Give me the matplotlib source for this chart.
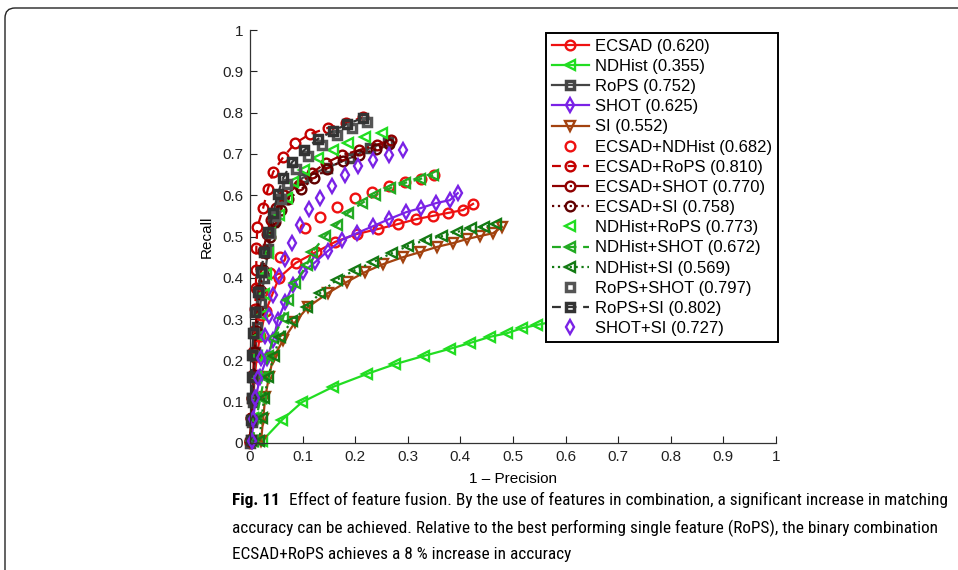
import matplotlib
matplotlib.use('Agg')
import matplotlib.pyplot as plt
from matplotlib import font_manager
from matplotlib.patches import FancyBboxPatch
from matplotlib.transforms import IdentityTransform

plt.rcParams['font.family'] = ['Liberation Sans', 'DejaVu Sans']

# ---- data (x = 1 - precision, y = recall) ----
ecsad_x = [0.0, 0.003, 0.006, 0.009, 0.013, 0.019, 0.030, 0.055, 0.087, 0.125, 0.162, 0.203, 0.243, 0.281, 0.316, 0.348, 0.376, 0.405, 0.424]
ecsad_y = [0.0, 0.05, 0.10, 0.16, 0.21, 0.26, 0.32, 0.40, 0.436, 0.462, 0.487, 0.506, 0.518, 0.530, 0.542, 0.550, 0.557, 0.564, 0.579]

ndhist_x = [0.023, 0.061, 0.099, 0.158, 0.222, 0.276, 0.331, 0.380, 0.418, 0.456, 0.489, 0.517, 0.546, 0.58, 0.62, 0.66]
ndhist_y = [0.005, 0.056, 0.099, 0.136, 0.167, 0.191, 0.211, 0.228, 0.242, 0.257, 0.266, 0.278, 0.286, 0.295, 0.303, 0.31]

rops_x = [0.0, 0.003, 0.006, 0.008, 0.010, 0.014, 0.020, 0.027, 0.035, 0.044, 0.063, 0.100, 0.146, 0.190, 0.228, 0.262]
rops_y = [0.0, 0.05, 0.10, 0.16, 0.22, 0.28, 0.34, 0.40, 0.47, 0.535, 0.59, 0.642, 0.666, 0.69, 0.714, 0.73]

shot_x = [0.004, 0.006, 0.011, 0.019, 0.032, 0.044, 0.053, 0.067, 0.082, 0.101, 0.124, 0.148, 0.175, 0.203, 0.234, 0.264, 0.297, 0.325, 0.354, 0.380, 0.395]
shot_y = [0.005, 0.056, 0.109, 0.16, 0.206, 0.249, 0.298, 0.341, 0.383, 0.414, 0.438, 0.465, 0.492, 0.508, 0.525, 0.542, 0.559, 0.569, 0.581, 0.588, 0.605]

si_x = [0.021, 0.025, 0.029, 0.036, 0.044, 0.063, 0.086, 0.110, 0.148, 0.184, 0.219, 0.253, 0.291, 0.323, 0.356, 0.386, 0.413, 0.437, 0.462, 0.479]
si_y = [0.005, 0.058, 0.111, 0.16, 0.206, 0.249, 0.293, 0.329, 0.363, 0.390, 0.414, 0.433, 0.450, 0.462, 0.475, 0.484, 0.494, 0.501, 0.508, 0.523]

ecsad_ndhist_x = [0.002, 0.004, 0.006, 0.009, 0.012, 0.016, 0.020, 0.023, 0.038, 0.057, 0.105, 0.133, 0.165, 0.200, 0.232, 0.264, 0.295, 0.325, 0.350]
ecsad_ndhist_y = [0.01, 0.06, 0.11, 0.16, 0.21, 0.26, 0.31, 0.366, 0.412, 0.450, 0.521, 0.547, 0.571, 0.593, 0.608, 0.622, 0.632, 0.639, 0.649]

ecsad_rops_x = [0.0, 0.002, 0.003, 0.005, 0.006, 0.008, 0.010, 0.011, 0.012, 0.012, 0.014, 0.025, 0.034, 0.044, 0.063, 0.086, 0.114, 0.148, 0.183, 0.215]
ecsad_rops_y = [0.005, 0.06, 0.11, 0.165, 0.22, 0.27, 0.325, 0.375, 0.42, 0.472, 0.523, 0.569, 0.615, 0.656, 0.692, 0.726, 0.748, 0.763, 0.775, 0.789]

ecsad_shot_x = [0.0, 0.002, 0.004, 0.006, 0.008, 0.010, 0.013, 0.016, 0.020, 0.025, 0.032, 0.040, 0.050, 0.065, 0.093, 0.118, 0.144, 0.175, 0.207, 0.241, 0.268]
ecsad_shot_y = [0.005, 0.06, 0.11, 0.165, 0.22, 0.27, 0.32, 0.37, 0.42, 0.465, 0.505, 0.54, 0.57, 0.60, 0.625, 0.654, 0.678, 0.697, 0.709, 0.722, 0.734]

ecsad_si_x = [0.001, 0.003, 0.005, 0.007, 0.009, 0.012, 0.015, 0.019, 0.024, 0.030, 0.038, 0.047, 0.058, 0.072, 0.097, 0.121, 0.147, 0.177, 0.208, 0.240, 0.265]
ecsad_si_y = [0.005, 0.06, 0.11, 0.165, 0.22, 0.27, 0.32, 0.37, 0.42, 0.46, 0.50, 0.535, 0.565, 0.59, 0.614, 0.641, 0.664, 0.684, 0.698, 0.711, 0.724]

ndhist_rops_x = [0.003, 0.005, 0.008, 0.011, 0.014, 0.018, 0.022, 0.026, 0.030, 0.034, 0.038, 0.055, 0.070, 0.082, 0.103, 0.129, 0.158, 0.186, 0.219, 0.251]
ndhist_rops_y = [0.005, 0.06, 0.11, 0.16, 0.21, 0.26, 0.31, 0.36, 0.41, 0.46, 0.508, 0.552, 0.593, 0.632, 0.661, 0.690, 0.709, 0.726, 0.741, 0.751]

ndhist_shot_x = [0.005, 0.012, 0.020, 0.027, 0.035, 0.044, 0.063, 0.072, 0.086, 0.108, 0.118, 0.143, 0.165, 0.186, 0.213, 0.238, 0.266, 0.295, 0.323, 0.348]
ndhist_shot_y = [0.005, 0.06, 0.11, 0.16, 0.21, 0.254, 0.303, 0.346, 0.387, 0.431, 0.462, 0.501, 0.528, 0.557, 0.581, 0.600, 0.617, 0.630, 0.639, 0.649]

ndhist_si_x = [0.018, 0.022, 0.027, 0.035, 0.045, 0.057, 0.080, 0.108, 0.133, 0.165, 0.200, 0.234, 0.270, 0.300, 0.335, 0.365, 0.394, 0.420, 0.445, 0.468]
ndhist_si_y = [0.005, 0.06, 0.11, 0.16, 0.21, 0.257, 0.295, 0.329, 0.363, 0.395, 0.419, 0.438, 0.460, 0.477, 0.492, 0.501, 0.511, 0.521, 0.523, 0.530]

rops_shot_x = [0.002, 0.003, 0.004, 0.005, 0.006, 0.008, 0.012, 0.017, 0.023, 0.030, 0.038, 0.048, 0.058, 0.070, 0.088, 0.110, 0.136, 0.165, 0.193, 0.222]
rops_shot_y = [0.007, 0.056, 0.109, 0.16, 0.213, 0.266, 0.317, 0.366, 0.414, 0.462, 0.508, 0.550, 0.592, 0.628, 0.664, 0.695, 0.722, 0.745, 0.763, 0.778]

rops_si_x = [0.002, 0.002, 0.004, 0.004, 0.004, 0.006, 0.010, 0.015, 0.021, 0.027, 0.034, 0.044, 0.053, 0.063, 0.080, 0.103, 0.129, 0.158, 0.184, 0.215]
rops_si_y = [0.007, 0.056, 0.109, 0.16, 0.213, 0.266, 0.317, 0.366, 0.414, 0.462, 0.511, 0.557, 0.603, 0.642, 0.680, 0.709, 0.736, 0.755, 0.772, 0.787]

shot_si_x = [0.004, 0.006, 0.010, 0.015, 0.021, 0.029, 0.036, 0.044, 0.055, 0.067, 0.080, 0.095, 0.112, 0.133, 0.156, 0.181, 0.205, 0.234, 0.264, 0.291]
shot_si_y = [0.005, 0.058, 0.109, 0.157, 0.206, 0.259, 0.307, 0.358, 0.404, 0.446, 0.484, 0.528, 0.567, 0.593, 0.622, 0.649, 0.671, 0.685, 0.697, 0.709]

labels = ['ECSAD (0.620)', 'NDHist (0.355)', 'RoPS (0.752)', 'SHOT (0.625)', 'SI (0.552)',
          'ECSAD+NDHist (0.682)', 'ECSAD+RoPS (0.810)', 'ECSAD+SHOT (0.770)', 'ECSAD+SI (0.758)',
          'NDHist+RoPS (0.773)', 'NDHist+SHOT (0.672)', 'NDHist+SI (0.569)',
          'RoPS+SHOT (0.797)', 'RoPS+SI (0.802)', 'SHOT+SI (0.727)']
ticks = [0, 0.1, 0.2, 0.3, 0.4, 0.5, 0.6, 0.7, 0.8, 0.9, 1]
tick_labels = ['0', '0.1', '0.2', '0.3', '0.4', '0.5', '0.6', '0.7', '0.8', '0.9', '1']

caption = ['Effect of feature fusion. By the use of features in combination, a significant increase in matching',
           'accuracy can be achieved. Relative to the best performing single feature (RoPS), the binary combination',
           'ECSAD+RoPS achieves a 8 % increase in accuracy']

series = [
    (ecsad_x, ecsad_y, '#ee1111', '-', 'o'),
    (ndhist_x, ndhist_y, '#22dd22', '-', '<'),
    (rops_x, rops_y, '#454545', '-', 's'),
    (shot_x, shot_y, '#7a22e6', '-', 'd'),
    (si_x, si_y, '#a3420f', '-', 'v'),
    (ecsad_ndhist_x, ecsad_ndhist_y, '#ee1111', 'none', 'o'),
    (ecsad_rops_x, ecsad_rops_y, '#c40000', (0, (4, 3)), 'o'),
    (ecsad_shot_x, ecsad_shot_y, '#8f0000', '-.', 'o'),
    (ecsad_si_x, ecsad_si_y, '#600000', ':', 'o'),
    (ndhist_rops_x, ndhist_rops_y, '#22dd22', 'none', '<'),
    (ndhist_shot_x, ndhist_shot_y, '#22aa22', (0, (4, 3)), '<'),
    (ndhist_si_x, ndhist_si_y, '#137a13', ':', '<'),
    (rops_shot_x, rops_shot_y, '#555555', 'none', 's'),
    (rops_si_x, rops_si_y, '#333333', (0, (4, 3)), 's'),
    (shot_si_x, shot_si_y, '#7a22e6', 'none', 'd'),
]

fig = plt.figure(figsize=(9.58, 5.70), dpi=100)

# page frame with rounded corner
frame = FancyBboxPatch((5, -60), 1100, 622, boxstyle='round,pad=0,rounding_size=10',
                       transform=IdentityTransform(), fill=False, edgecolor='#222222', lw=1.0)
fig.add_artist(frame)

ax = fig.add_axes([250 / 958, 1 - 443 / 570, 526 / 958, 413 / 570])

for (x, y, c, ls, m), lab in zip(series, labels):
    ms, mew = (5.5, 2.5) if m == 's' else (7.0, 1.7)
    ax.plot(x, y, color=c, linestyle=ls, lw=1.6, marker=m, markersize=ms,
            markerfacecolor='none', markeredgecolor=c, markeredgewidth=mew,
            label=lab, clip_on=False)

ax.set_xlim(0, 1)
ax.set_ylim(0, 1)
ax.set_xticks(ticks)
ax.set_xticklabels(tick_labels)
ax.set_yticks(ticks)
ax.set_yticklabels(tick_labels)
ax.tick_params(direction='in', length=5, width=0.8, labelsize=11, pad=5, colors='#222222')
ax.spines['top'].set_visible(False)
ax.spines['right'].set_visible(False)
for s in ('left', 'bottom'):
    ax.spines[s].set_color('#333333')
    ax.spines[s].set_linewidth(0.9)
ax.set_xlabel('1 \u2013 Precision', fontsize=11, labelpad=6)
ax.set_ylabel('Recall', fontsize=11, labelpad=6)

leg = ax.legend(loc='upper left', bbox_to_anchor=(546 / 958, 1 - 33 / 570),
                bbox_transform=fig.transFigure, borderaxespad=0, fontsize=12,
                handlelength=2.2, labelspacing=0.31, borderpad=0.35, handletextpad=0.4,
                frameon=True, fancybox=False, edgecolor='black', framealpha=1)
leg.get_frame().set_linewidth(1.4)
leg.set_zorder(10)

# caption: pick a narrow face if one exists, then size it to the page width
names = {f.name for f in font_manager.fontManager.ttflist}
cap_family = 'Liberation Sans'
for cand in ['Liberation Sans Narrow', 'Roboto Condensed', 'Open Sans Condensed', 'Lato']:
    if cand in names:
        cap_family = cand
        break

t_fig = fig.text(232 / 958, 1 - 500 / 570, 'Fig. 11', fontsize=14, fontweight='bold',
                 family=cap_family, va='center', ha='left')
t1 = fig.text(0, 1 - 500 / 570, caption[0], fontsize=14, family=cap_family, va='center', ha='left')
t2 = fig.text(232 / 958, 1 - 528 / 570, caption[1], fontsize=14, family=cap_family, va='center', ha='left')
t3 = fig.text(232 / 958, 1 - 555 / 570, caption[2], fontsize=14, family=cap_family, va='center', ha='left')

renderer = fig.canvas.get_renderer()
w2 = t2.get_window_extent(renderer).width
size = 14 * (938 - 232) / w2
for t in (t_fig, t1, t2, t3):
    t.set_fontsize(size)
wf = t_fig.get_window_extent(renderer).width
t1.set_x((232 + wf + 9) / 958)

fig.savefig('out.png', dpi=100)
